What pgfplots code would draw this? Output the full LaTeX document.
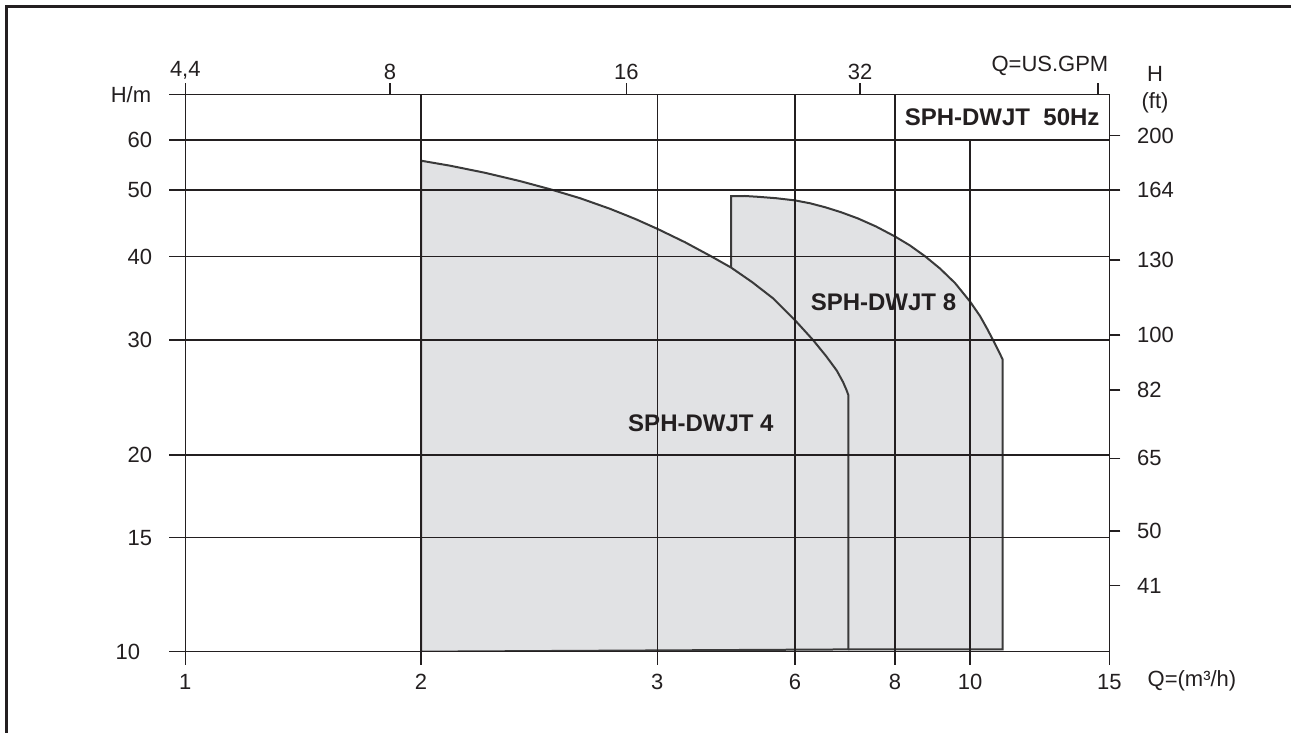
\documentclass[border=0pt]{standalone}
\usepackage{pgfplots}
\pgfplotsset{compat=1.18}
\usepackage{fontspec}
\setmainfont{Liberation Sans}

\definecolor{ink}{RGB}{35,31,32}
\definecolor{area}{RGB}{225,226,228}
\definecolor{edge}{RGB}{58,58,58}

% the chart's scales are neither linear nor log: piecewise between the printed ticks
\pgfplotsset{
  pumpmap/.style={
    scale only axis, width=462pt, height=278.7pt,
    xmin=1, xmax=15, ymin=10, ymax=70,
    x coord trafo/.code={\pgfmathparse{ifthenelse(##1<2,(##1-1)*235.7,
      ifthenelse(##1<3,235.7+(##1-2)*236.3,
      ifthenelse(##1<6,472+(##1-3)*45.9,
      ifthenelse(##1<8,609.7+(##1-6)*50,
      ifthenelse(##1<10,709.7+(##1-8)*37.5,784.7+(##1-10)*27.86)))))}},
    y coord trafo/.code={\pgfmathparse{ifthenelse(##1<15,(##1-10)*22.8,
      ifthenelse(##1<20,114+(##1-15)*16.54,
      ifthenelse(##1<30,196.7+(##1-20)*11.5,
      ifthenelse(##1<40,311.7+(##1-30)*8.33,
      ifthenelse(##1<50,395+(##1-40)*6.67,
      ifthenelse(##1<60,461.7+(##1-50)*5,511.7+(##1-60)*4.57))))))}},
    at={(92.65pt,40.65pt)}, anchor=south west,
    axis line style={ink, line width=0.5pt},
    tick align=outside,
    major tick style={ink, line width=0.7pt},
  }
}

\pgfplotstableread{
q      h
2      10
2      55.86
2.123  54.86
2.271  53.44
2.419  51.78
2.546  50.16
2.673  48.77
2.800  47.18
2.906  45.67
3      44.18
3.603  42.17
4.185  40.01
4.606  38.70
5.063  36.96
5.527  34.98
6      32.38
6.36   30
6.62   28.61
6.834  27.35
6.96   26.35
7.03   25.65
7.066  25.22
7.066  10.1
}\dwjtfour

\pgfplotstableread{
q      h
4.606  38.70
4.606  49.07
4.911  49.10
5.194  48.98
5.586  48.77
6      48.44
6.3    48.01
6.6    47.42
6.92   46.67
7.26   45.73
7.62   44.53
8      43.03
8.4    41.68
8.8    40.07
9.2    38.58
9.6    36.84
10     34.62
10.359 32.88
10.61  31.38
10.826 30
11.016 29.09
11.174 28.30
11.174 10.1
7.066  10.1
}\dwjteight

\begin{document}
\fontsize{11}{13}\selectfont
\begin{tikzpicture}[color=ink]
\path[use as bounding box] (0,0) rectangle (645.5pt,366.5pt);
\draw[ink, line width=1.35pt] (3.35pt,-10pt) -- (3.35pt,363.15pt) -- (660pt,363.15pt);

\begin{axis}[pumpmap, axis on top,
  xtick={1,2,3,6,8,10,15}, xticklabels={1,2,3,6,8,10,15},
  ytick={15,20,30,40,50,60,70}, yticklabels={15,20,30,40,50,60,{}},
  extra y ticks={10}, extra y tick labels={10},
  extra y tick style={tick label style={xshift=-6pt}},
  xtick pos=bottom, ytick pos=left,
  xtick style={/pgfplots/major tick length=6.5pt},
  ytick style={/pgfplots/major tick length=8pt},
  xticklabel style={yshift=-3pt},
  yticklabel style={xshift=-8.5pt},
  grid=major, major grid style={ink, line width=0.7pt},
]
% fills first, outlines after, so the SPH-DWJT 4 curve stays visible
\addplot[fill=area, draw=none] table {\dwjtfour} -- cycle;
\addplot[fill=area, draw=none] table {\dwjteight} -- cycle;
\addplot[draw=edge, line width=1pt] table {\dwjtfour} -- cycle;
\addplot[draw=edge, line width=1pt] table {\dwjteight};
\node[font=\fontsize{12}{14}\selectfont\bfseries] at (axis cs:3.95,22.8) {SPH-DWJT 4};
\node[font=\fontsize{12}{14}\selectfont\bfseries] at (axis cs:7.77,34.5) {SPH-DWJT 8};
\end{axis}

\begin{axis}[pumpmap, clip=false,
  axis x line*=top, axis y line*=right,
  xtick={1,1.8685,2.8688,7.30,14.594}, xticklabels={{4,4},8,16,32,{}},
  ytick={60.94,50,39.6,30.6,25.65,19.8,15.4,12.9},
  yticklabels={200,164,130,100,82,65,50,41},
  major tick length=5.5pt,
  xticklabel style={yshift=-2pt},
  yticklabel style={anchor=west, xshift=4.5pt},
]
\draw[fill=white, line width=0.7pt] (axis cs:8,60) rectangle (axis cs:15,70);
\path (axis cs:8,60) -- (axis cs:15,70)
  node[midway, font=\fontsize{12}{14}\selectfont\bfseries] {SPH-DWJT\ \ 50Hz};
\node[anchor=east] at (axis cs:1,70) [xshift=-13.2pt] {H/m};
\node at (axis cs:15,70) [xshift=-29.7pt, yshift=14.2pt] {Q=US.GPM};
\node at (axis cs:15,70) [xshift=22.9pt, yshift=10pt] {H};
\node at (axis cs:15,70) [xshift=22.9pt, yshift=-4.4pt] {(ft)};
\node[anchor=west] at (axis cs:15,10) [xshift=15.3pt, yshift=-14.7pt] {Q=(m³/h)};
\end{axis}
\end{tikzpicture}
\end{document}
